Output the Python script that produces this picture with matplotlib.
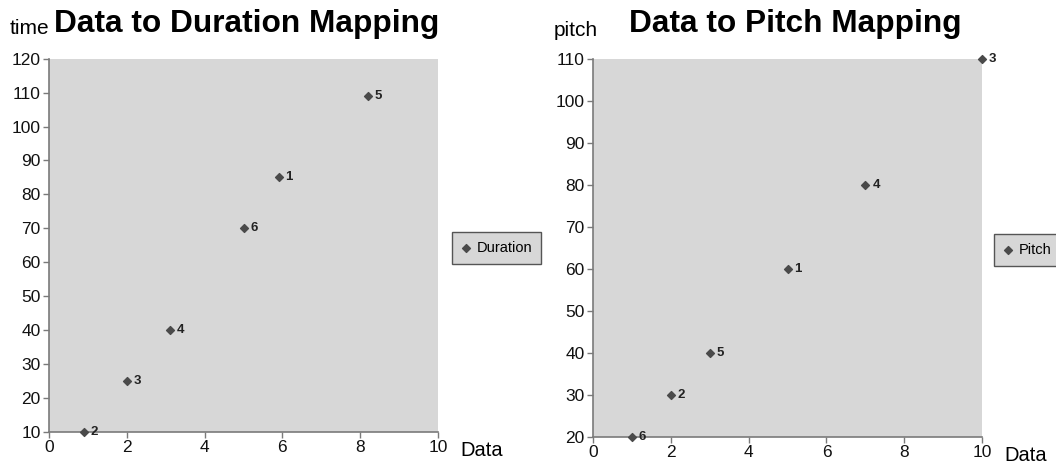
import matplotlib.pyplot as plt

plt.rcParams['font.family'] = ['Liberation Sans', 'DejaVu Sans']

# left chart: data -> duration
dur_x = [0.9, 2.0, 3.1, 5.0, 5.9, 8.2]
dur_y = [10, 25, 40, 70, 85, 109]
dur_lbl = ['2', '3', '4', '6', '1', '5']

# right chart: data -> pitch
pit_x = [1, 2, 3, 5, 7, 10]
pit_y = [20, 30, 40, 60, 80, 110]
pit_lbl = ['6', '2', '5', '1', '4', '3']

xticks = [0, 2, 4, 6, 8, 10]
dur_ticks = list(range(10, 121, 10))
pit_ticks = list(range(20, 111, 10))

bg = '#d7d7d7'
mk = '#4a4a4a'
spine = '#7a7a7a'

fig = plt.figure(figsize=(10.56, 4.65), dpi=100)
ax1 = fig.add_axes([0.0464, 0.0716, 0.3684, 0.8022])
ax2 = fig.add_axes([0.5616, 0.0609, 0.3684, 0.8129])


def style(ax, yt, title, ylab, title_x, ylab_x, ylab_y, leg_name, leg_x, leg_y):
    ax.set_facecolor(bg)
    ax.set_xlim(0, 10)
    ax.set_ylim(yt[0], yt[-1])
    ax.set_xticks(xticks)
    ax.set_yticks(yt)
    for s in ['top', 'right']:
        ax.spines[s].set_visible(False)
    for s in ['left', 'bottom']:
        ax.spines[s].set_color(spine)
        ax.spines[s].set_linewidth(1.2)
    ax.tick_params(axis='both', direction='out', length=4, width=1,
                   color=spine, labelsize=12.5, pad=2, labelcolor='#111111')
    ax.text(1.058, -0.05, 'Data', transform=ax.transAxes, fontsize=14.5,
            ha='left', va='center')
    fig.text(title_x, 0.948, title, fontsize=22.8, fontweight='bold',
             ha='center', va='center')
    fig.text(ylab_x, ylab_y, ylab, fontsize=15, ha='left', va='center')
    ax.legend([leg_name], loc='center left', bbox_to_anchor=(leg_x, leg_y),
              fontsize=10.5, frameon=True, fancybox=False, edgecolor='#555555',
              facecolor=bg, framealpha=1, handletextpad=0.3,
              borderpad=0.6, handlelength=0.8, borderaxespad=0)


ax1.scatter(dur_x, dur_y, marker='D', s=16, color=mk, clip_on=False, zorder=3)
for x, y, t in zip(dur_x, dur_y, dur_lbl):
    ax1.annotate(t, (x, y), xytext=(5, 0), textcoords='offset points',
                 fontsize=9.5, fontweight='bold', va='center', color='#222222')
style(ax1, dur_ticks, 'Data to Duration Mapping', 'time', 0.234, 0.009, 0.938,
      'Duration', 1.035, 0.492)

ax2.scatter(pit_x, pit_y, marker='D', s=16, color=mk, clip_on=False, zorder=3)
for x, y, t in zip(pit_x, pit_y, pit_lbl):
    ax2.annotate(t, (x, y), xytext=(5, 0), textcoords='offset points',
                 fontsize=9.5, fontweight='bold', va='center', color='#222222')
style(ax2, pit_ticks, 'Data to Pitch Mapping', 'pitch', 0.753, 0.524, 0.934,
      'Pitch', 1.03, 0.494)

fig.savefig('out.png', dpi=100)
